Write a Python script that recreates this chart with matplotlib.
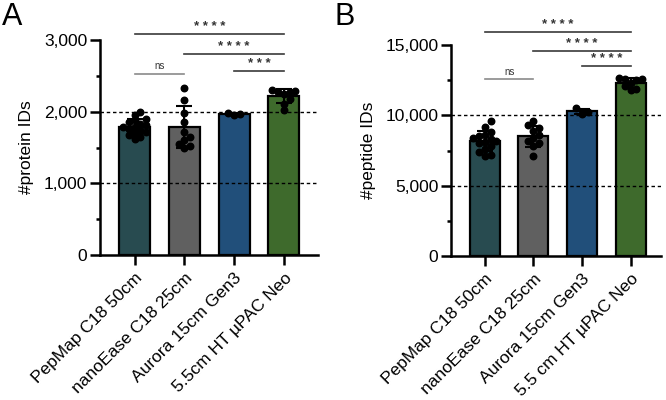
import numpy as np
from matplotlib import pyplot as plt
import matplotlib

matplotlib.rcParams['font.family'] = 'Liberation Sans'

columns = ['PepMap C18 50cm', 'nanoEase C18 25cm', 'Aurora 15cm Gen3', '5.5cm HT \u00b5PAC Neo']
columns_b = ['PepMap C18 50cm', 'nanoEase C18 25cm', 'Aurora 15cm Gen3', '5.5 cm HT \u00b5PAC Neo']
colors = ['#284b50', '#606060', '#214f7a', '#3e6a2c']

protein_ids = [
    [2000, 1960, 1900, 1880, 1850, 1830, 1810, 1790, 1780, 1760, 1740, 1720, 1700, 1680, 1650, 1620],
    [2330, 2160, 1980, 1850, 1720, 1650, 1600, 1550, 1520, 1500],
    [1950, 1965, 1980],
    [2300, 2290, 2280, 2270, 2240, 2180, 2110, 2030],
]
peptide_ids = [
    [9600, 9200, 8800, 8600, 8500, 8400, 8300, 8200, 8100, 8000, 7800, 7600, 7400, 7200, 7100],
    [9600, 9300, 9100, 8900, 8600, 8400, 8200, 8000, 7800, 7100],
    [10500, 10250, 10100],
    [12650, 12600, 12550, 12500, 12300, 12100, 11900, 11800],
]

# (group i, group j, line height, label)
sig_protein = [(0, 3, 3080, '* * * *'), (1, 3, 2800, '* * * *'), (2, 3, 2565, '* * *'), (0, 1, 2525, 'ns')]
sig_peptide = [(0, 3, 15900, '* * * *'), (1, 3, 14570, '* * * *'), (2, 3, 13530, '* * * *'), (0, 1, 12580, 'ns')]


def swarm(ax, x0, vals, diam=6.0):
    # simple beeswarm in pixel space
    fig = ax.figure
    fig.canvas.draw()
    tr = ax.transData
    px_per_unit = tr.transform((1, 0))[0] - tr.transform((0, 0))[0]
    ys = [tr.transform((0, v))[1] for v in vals]
    order = np.argsort(vals)
    placed = []
    offs = np.zeros(len(vals))
    for k in order:
        y = ys[k]
        for step in [0, 1, -1, 2, -2, 3, -3, 4, -4]:
            x = step * diam * 0.95
            if all((x - px) ** 2 + (y - py) ** 2 >= (diam * 0.95) ** 2 for px, py in placed):
                break
        placed.append((x, y))
        offs[k] = x / px_per_unit
    return x0 + offs


def panel(rect, data, labels, ylim, xlim, major, minor, dashes, ylabel, sigs, letter, letter_x):
    ax = fig.add_axes(rect)
    x = np.arange(len(data))
    means = [np.mean(d) for d in data]
    sds = [np.std(d, ddof=1) for d in data]
    ax.bar(x, means, width=0.62, color=colors, edgecolor='black', linewidth=1.6, zorder=2)
    for yv in dashes:
        ax.axhline(yv, color='black', linestyle=(0, (2.5, 2)), linewidth=1.0, zorder=3)
    ax.set_xlim(*xlim)
    ax.set_ylim(*ylim)
    ax.set_yticks(major)
    ax.set_yticks(minor, minor=True)
    ax.set_yticklabels([f'{v:,}' for v in major], fontsize=12.5)
    ax.set_xticks(x)
    ax.set_xticklabels(labels, rotation=45, ha='right', rotation_mode='anchor', fontsize=12.5)
    ax.set_ylabel(ylabel, fontsize=12.5, labelpad=7)
    for s in ['top', 'right']:
        ax.spines[s].set_visible(False)
    for s in ['left', 'bottom']:
        ax.spines[s].set_linewidth(1.8)
    ax.tick_params(axis='both', which='major', length=7, width=1.8, direction='out', pad=2)
    ax.tick_params(axis='y', which='minor', length=3, width=1.8, direction='out')
    ax.tick_params(axis='x', pad=4)
    for i, d in enumerate(data):
        xs = swarm(ax, x[i], d)
        ax.scatter(xs, d, s=22, color='black', zorder=4, clip_on=False)
        ax.errorbar(x[i], means[i], yerr=sds[i], color='black', capsize=6,
                    elinewidth=1.5, capthick=1.5, zorder=5)
    span = ylim[1] - ylim[0]
    for i, j, h, lab in sigs:
        col = '#8a8a8a' if lab == 'ns' else '#3a3a3a'
        ax.plot([x[i], x[j]], [h, h], color=col, linewidth=1.2, clip_on=False)
        if lab == 'ns':
            ax.text((x[i] + x[j]) / 2, h + span * 0.012, lab, ha='center', va='bottom',
                    fontsize=7, color='#333333')
        else:
            ax.text((x[i] + x[j]) / 2, h + span * 0.004, lab, ha='center', va='bottom',
                    fontsize=9.5, color='#333333', fontweight='bold')
    fig.text(letter_x, 0.995, letter, fontsize=22, ha='left', va='top')
    return ax


fig = plt.figure(figsize=(6.66, 4.0), dpi=100)
panel([0.150, 0.3625, 0.327, 0.5375], protein_ids, columns, (0, 3000), (-0.70, 3.68),
      [0, 1000, 2000, 3000], [500, 1500, 2500], [1000, 2000], '#protein IDs',
      sig_protein, 'A', 0.003)
panel([0.677, 0.36, 0.315, 0.5275], peptide_ids, columns_b, (0, 15000), (-0.70, 3.62),
      [0, 5000, 10000, 15000], [2500, 7500, 12500], [5000, 10000], '#peptide IDs',
      sig_peptide, 'B', 0.503)
fig.savefig('out.png', dpi=100)
